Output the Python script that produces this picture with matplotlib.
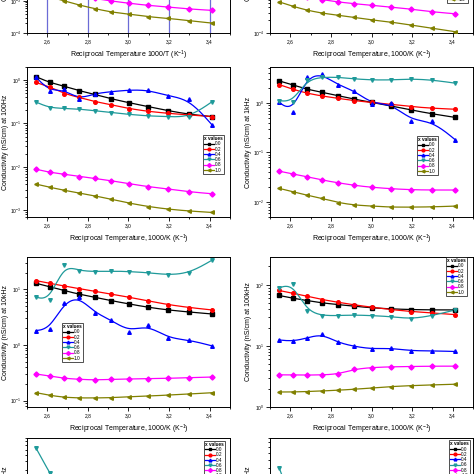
import matplotlib
matplotlib.use("Agg")
import matplotlib.pyplot as plt
import numpy as np
from matplotlib.ticker import MultipleLocator, FuncFormatter, LogLocator, NullFormatter
from matplotlib.lines import Line2D

plt.rcParams['font.family'] = ['Liberation Sans', 'DejaVu Sans']
plt.rcParams['mathtext.fontset'] = 'custom'
plt.rcParams['mathtext.rm'] = 'Liberation Sans'
plt.rcParams['mathtext.it'] = 'Liberation Sans:italic'
plt.rcParams['mathtext.bf'] = 'Liberation Sans:bold'

# reciprocal temperature 1000/T for 120..20 C
recip_T = [2.545, 2.611, 2.681, 2.755, 2.833, 2.915, 3.003, 3.096, 3.195, 3.300, 3.413]

x_labels = ['0.0', '0.2', '0.4', '0.6', '0.8', '1.0']
colors = ['black', '#ff0000', '#0000ff', '#1f9a9a', '#ff00ff', '#808000']
markers = ['s', 'o', '^', 'v', 'D', '<']

# top row (only the lowest part is visible)
dc_left_08 = [2.6e-3, 2.1e-3, 1.75e-3, 1.45e-3, 1.2e-3, 1.0e-3, 8.5e-4, 7.3e-4, 6.5e-4, 5.6e-4, 5.1e-4]
dc_left_10 = [1.8e-3, 1.35e-3, 1.02e-3, 7.5e-4, 5.8e-4, 4.5e-4, 3.9e-4, 3.2e-4, 2.9e-4, 2.4e-4, 2.04e-4]
dc_right_08 = [9.0e-4, 7.8e-4, 6.8e-4, 6.0e-4, 5.3e-4, 4.8e-4, 4.4e-4, 4.0e-4, 3.6e-4, 3.1e-4, 2.8e-4]
dc_right_10 = [5.3e-4, 4.2e-4, 3.4e-4, 2.9e-4, 2.6e-4, 2.3e-4, 2.0e-4, 1.8e-4, 1.53e-4, 1.29e-4, 1.07e-4]

# 100 Hz
c100Hz_00 = [1.19, 0.88, 0.73, 0.57, 0.47, 0.37, 0.30, 0.245, 0.197, 0.162, 0.144]
c100Hz_02 = [0.88, 0.70, 0.49, 0.40, 0.32, 0.27, 0.22, 0.19, 0.171, 0.157, 0.144]
c100Hz_04 = [1.15, 0.56, 0.61, 0.36, 0.49, 0.54, 0.59, 0.59, 0.43, 0.36, 0.091]
c100Hz_06 = [0.31, 0.23, 0.223, 0.215, 0.197, 0.177, 0.162, 0.149, 0.144, 0.139, 0.32]
c100Hz_08 = [8.8e-3, 7.5e-3, 6.8e-3, 6.0e-3, 5.4e-3, 4.8e-3, 4.1e-3, 3.5e-3, 3.1e-3, 2.66e-3, 2.4e-3]
c100Hz_10 = [4.0e-3, 3.4e-3, 2.9e-3, 2.5e-3, 2.15e-3, 1.8e-3, 1.46e-3, 1.22e-3, 1.06e-3, 9.6e-4, 8.9e-4]

# 1 kHz
c1kHz_00 = [2.78, 2.31, 1.89, 1.64, 1.41, 1.19, 1.02, 0.87, 0.72, 0.60, 0.51]
c1kHz_02 = [2.34, 1.89, 1.57, 1.38, 1.24, 1.11, 1.02, 0.94, 0.84, 0.78, 0.745]
c1kHz_04 = [1.02, 0.67, 3.3, 3.85, 2.31, 1.77, 0.95, 0.98, 0.44, 0.43, 0.18]
c1kHz_06 = [1.11, 1.05, 2.9, 3.3, 3.3, 3.05, 2.9, 2.9, 3.05, 2.9, 2.5]
c1kHz_08 = [0.042, 0.037, 0.0325, 0.0278, 0.0246, 0.0217, 0.0198, 0.0186, 0.0177, 0.0175, 0.0175]
c1kHz_10 = [0.0189, 0.0162, 0.0138, 0.0119, 0.0098, 0.0087, 0.0083, 0.0079, 0.0079, 0.0080, 0.0083]

# 10 kHz
c10kHz_00 = [12.8, 11.1, 9.5, 8.2, 7.2, 6.25, 5.45, 4.75, 4.25, 3.9, 3.6]
c10kHz_02 = [14.3, 12.8, 11.5, 10.3, 9.2, 8.2, 7.2, 6.2, 5.3, 4.7, 4.25]
c10kHz_04 = [1.81, 1.97, 5.6, 7.4, 3.8, 2.8, 1.74, 2.29, 1.32, 1.23, 0.96]
c10kHz_06 = [7.2, 6.4, 27.4, 21.6, 20.8, 21.3, 20.8, 19.9, 18.1, 19.4, 33.6]
c10kHz_08 = [0.301, 0.277, 0.252, 0.242, 0.235, 0.242, 0.245, 0.248, 0.252, 0.259, 0.266]
c10kHz_10 = [0.139, 0.125, 0.115, 0.112, 0.112, 0.113, 0.118, 0.121, 0.126, 0.132, 0.139]

# 100 kHz
c100kHz_00 = [66.8, 60.4, 55.3, 50.6, 47.5, 44.6, 41.9, 40.3, 39.3, 38.8, 38.8]
c100kHz_02 = [80.7, 73.0, 65.1, 57.4, 51.9, 46.9, 42.9, 39.3, 36.5, 34.7, 32.5]
c100kHz_04 = [12.5, 11.9, 13.4, 15.7, 11.4, 9.8, 8.9, 9.2, 8.3, 8.3, 8.1]
c100kHz_06 = [89.3, 104.0, 37.8, 31.3, 31.3, 32.1, 31.3, 30.2, 27.6, 31.3, 38.8]
c100kHz_08 = [3.36, 3.36, 3.32, 3.36, 3.44, 4.16, 4.43, 4.55, 4.60, 4.66, 4.66]
c100kHz_10 = [1.76, 1.76, 1.79, 1.83, 1.88, 1.95, 2.05, 2.16, 2.24, 2.30, 2.36]

# bottom row (only the top edge is visible)
c1MHz_left_06 = [63, 27, 12, 9, 8.5, 8, 7.8, 7.6, 7.6, 7.8, 8.5]
c1MHz_right_06 = [40, 15, 10, 8, 7.5, 7.2, 7, 6.9, 6.9, 7, 7.5]


def bspline(xs, ys, n=20):
    # uniform cubic B-spline through the points as control points (log y)
    xs = np.asarray(xs, float)
    ly = np.log10(np.asarray(ys, float))
    px = np.r_[xs[0], xs[0], xs, xs[-1], xs[-1]]
    py = np.r_[ly[0], ly[0], ly, ly[-1], ly[-1]]
    t = np.linspace(0, 1, n)
    b0 = (1 - t) ** 3 / 6
    b1 = (3 * t ** 3 - 6 * t ** 2 + 4) / 6
    b2 = (-3 * t ** 3 + 3 * t ** 2 + 3 * t + 1) / 6
    b3 = t ** 3 / 6
    cx, cy = [], []
    for i in range(len(px) - 3):
        cx.append(b0 * px[i] + b1 * px[i + 1] + b2 * px[i + 2] + b3 * px[i + 3])
        cy.append(b0 * py[i] + b1 * py[i + 1] + b2 * py[i + 2] + b3 * py[i + 3])
    return np.concatenate(cx), 10 ** np.concatenate(cy)


def draw(ax, series, idx):
    for ys, i in zip(series, idx):
        sx, sy = bspline(recip_T, ys)
        ax.plot(sx, sy, color=colors[i], lw=0.9, zorder=2)
        ax.plot(recip_T, ys, ls='none', marker=markers[i], ms=2.6,
                color=colors[i], mec=colors[i], zorder=3)


def style(ax, ylim, ylabel, xlabel):
    ax.set_yscale('log')
    ax.set_xlim(2.5, 3.5)
    ax.set_ylim(*ylim)
    ax.xaxis.set_major_locator(MultipleLocator(0.2))
    ax.xaxis.set_minor_locator(MultipleLocator(0.1))
    ax.xaxis.set_major_formatter(FuncFormatter(lambda v, p: f"{v:.1f}".replace('.', ',')))
    ax.yaxis.set_major_locator(LogLocator(base=10, numticks=20))
    ax.yaxis.set_minor_locator(LogLocator(base=10, subs=np.arange(2, 10), numticks=20))
    ax.yaxis.set_minor_formatter(NullFormatter())
    ax.tick_params(which='both', direction='out', labelsize=3.5, pad=1.5, width=0.6)
    ax.tick_params(which='major', length=2.8)
    ax.tick_params(which='minor', length=1.5)
    for s in ax.spines.values():
        s.set_linewidth(0.7)
    ax.set_ylabel(ylabel, fontsize=5)
    ax.set_xlabel(xlabel, fontsize=5)
    ax.yaxis.set_label_coords(-0.088, 0.5)
    ax.xaxis.set_label_coords(0.5, -0.105)


def legend(ax, loc, anchor):
    handles = [Line2D([0], [0], color=c, marker=m, ms=2.0, lw=0.9)
               for c, m in zip(colors, markers)]
    lg = ax.legend(handles, x_labels, title='x values', loc=loc, bbox_to_anchor=anchor,
                   fontsize=3.4, title_fontsize=3.4, frameon=True, fancybox=False,
                   edgecolor='black', borderaxespad=0, borderpad=0.25,
                   labelspacing=0.05, handlelength=2.0, handletextpad=0.3)
    lg.get_frame().set_linewidth(0.6)
    lg.get_title().set_fontweight('bold')
    lg._legend_box.align = 'left'


fig = plt.figure(figsize=(4.74, 4.74), dpi=100)
W = 474.0
col_left = [27 / W, 270 / W]
row_bottom = [1 - 33 / W, 1 - 217 / W, 1 - 407 / W, 1 - 588 / W]
aw, ah = 203 / W, 150 / W

xlab = r"Reciprocal Temperature, 1000/K (K$^{-1}$)"

# row 1
ax = fig.add_axes([col_left[0], row_bottom[0], aw, ah])
for xv in [2.6, 2.8, 3.0, 3.2, 3.4]:
    ax.axvline(xv, color='#6b6bd6', lw=0.9, zorder=1)
draw(ax, [dc_left_08, dc_left_10], [4, 5])
style(ax, (1e-4, 4.9), "Conductivity (nS/cm) at DC", r"Reciprocal Temperature 1000/T (K$^{-1}$)")

ax = fig.add_axes([col_left[1], row_bottom[0], aw, ah])
draw(ax, [dc_right_08, dc_right_10], [4, 5])
style(ax, (1e-4, 0.31), "Conductivity (nS/cm) at DC", xlab)
legend(ax, 'lower left', (0.872, 0.2))

# row 2
ax = fig.add_axes([col_left[0], row_bottom[1], aw, ah])
draw(ax, [c100Hz_00, c100Hz_02, c100Hz_04, c100Hz_06, c100Hz_08, c100Hz_10], range(6))
style(ax, (7e-4, 2.0), "Conductivity (nS/cm) at 100Hz", xlab)
legend(ax, 'upper left', (0.867, 0.547))

ax = fig.add_axes([col_left[1], row_bottom[1], aw, ah])
draw(ax, [c1kHz_00, c1kHz_02, c1kHz_04, c1kHz_06, c1kHz_08, c1kHz_10], range(6))
style(ax, (5e-3, 5.3), "Conductivity (nS/cm) at 1kHz", xlab)
legend(ax, 'upper left', (0.724, 0.54))

# row 3
ax = fig.add_axes([col_left[0], row_bottom[2], aw, ah])
draw(ax, [c10kHz_00, c10kHz_02, c10kHz_04, c10kHz_06, c10kHz_08, c10kHz_10], range(6))
style(ax, (0.077, 38), "Conductivity (nS/cm) at 10kHz", xlab)
legend(ax, 'upper left', (0.172, 0.56))

ax = fig.add_axes([col_left[1], row_bottom[2], aw, ah])
draw(ax, [c100kHz_00, c100kHz_02, c100kHz_04, c100kHz_06, c100kHz_08, c100kHz_10], range(6))
style(ax, (1.0, 285), "Conductivity (nS/cm) at 100kHz", xlab)
legend(ax, 'upper left', (0.867, 1.0))

# row 4
ax = fig.add_axes([col_left[0], row_bottom[3], aw, ah])
draw(ax, [c1MHz_left_06], [3])
style(ax, (0.5, 90), "Conductivity (nS/cm) at 1MHz", xlab)
legend(ax, 'upper left', (0.872, 0.982))

ax = fig.add_axes([col_left[1], row_bottom[3], aw, ah])
draw(ax, [c1MHz_right_06], [3])
style(ax, (1.5, 90), "Conductivity (nS/cm) at 1MHz", xlab)
legend(ax, 'upper left', (0.882, 0.985))

fig.savefig("out.png", dpi=100)
